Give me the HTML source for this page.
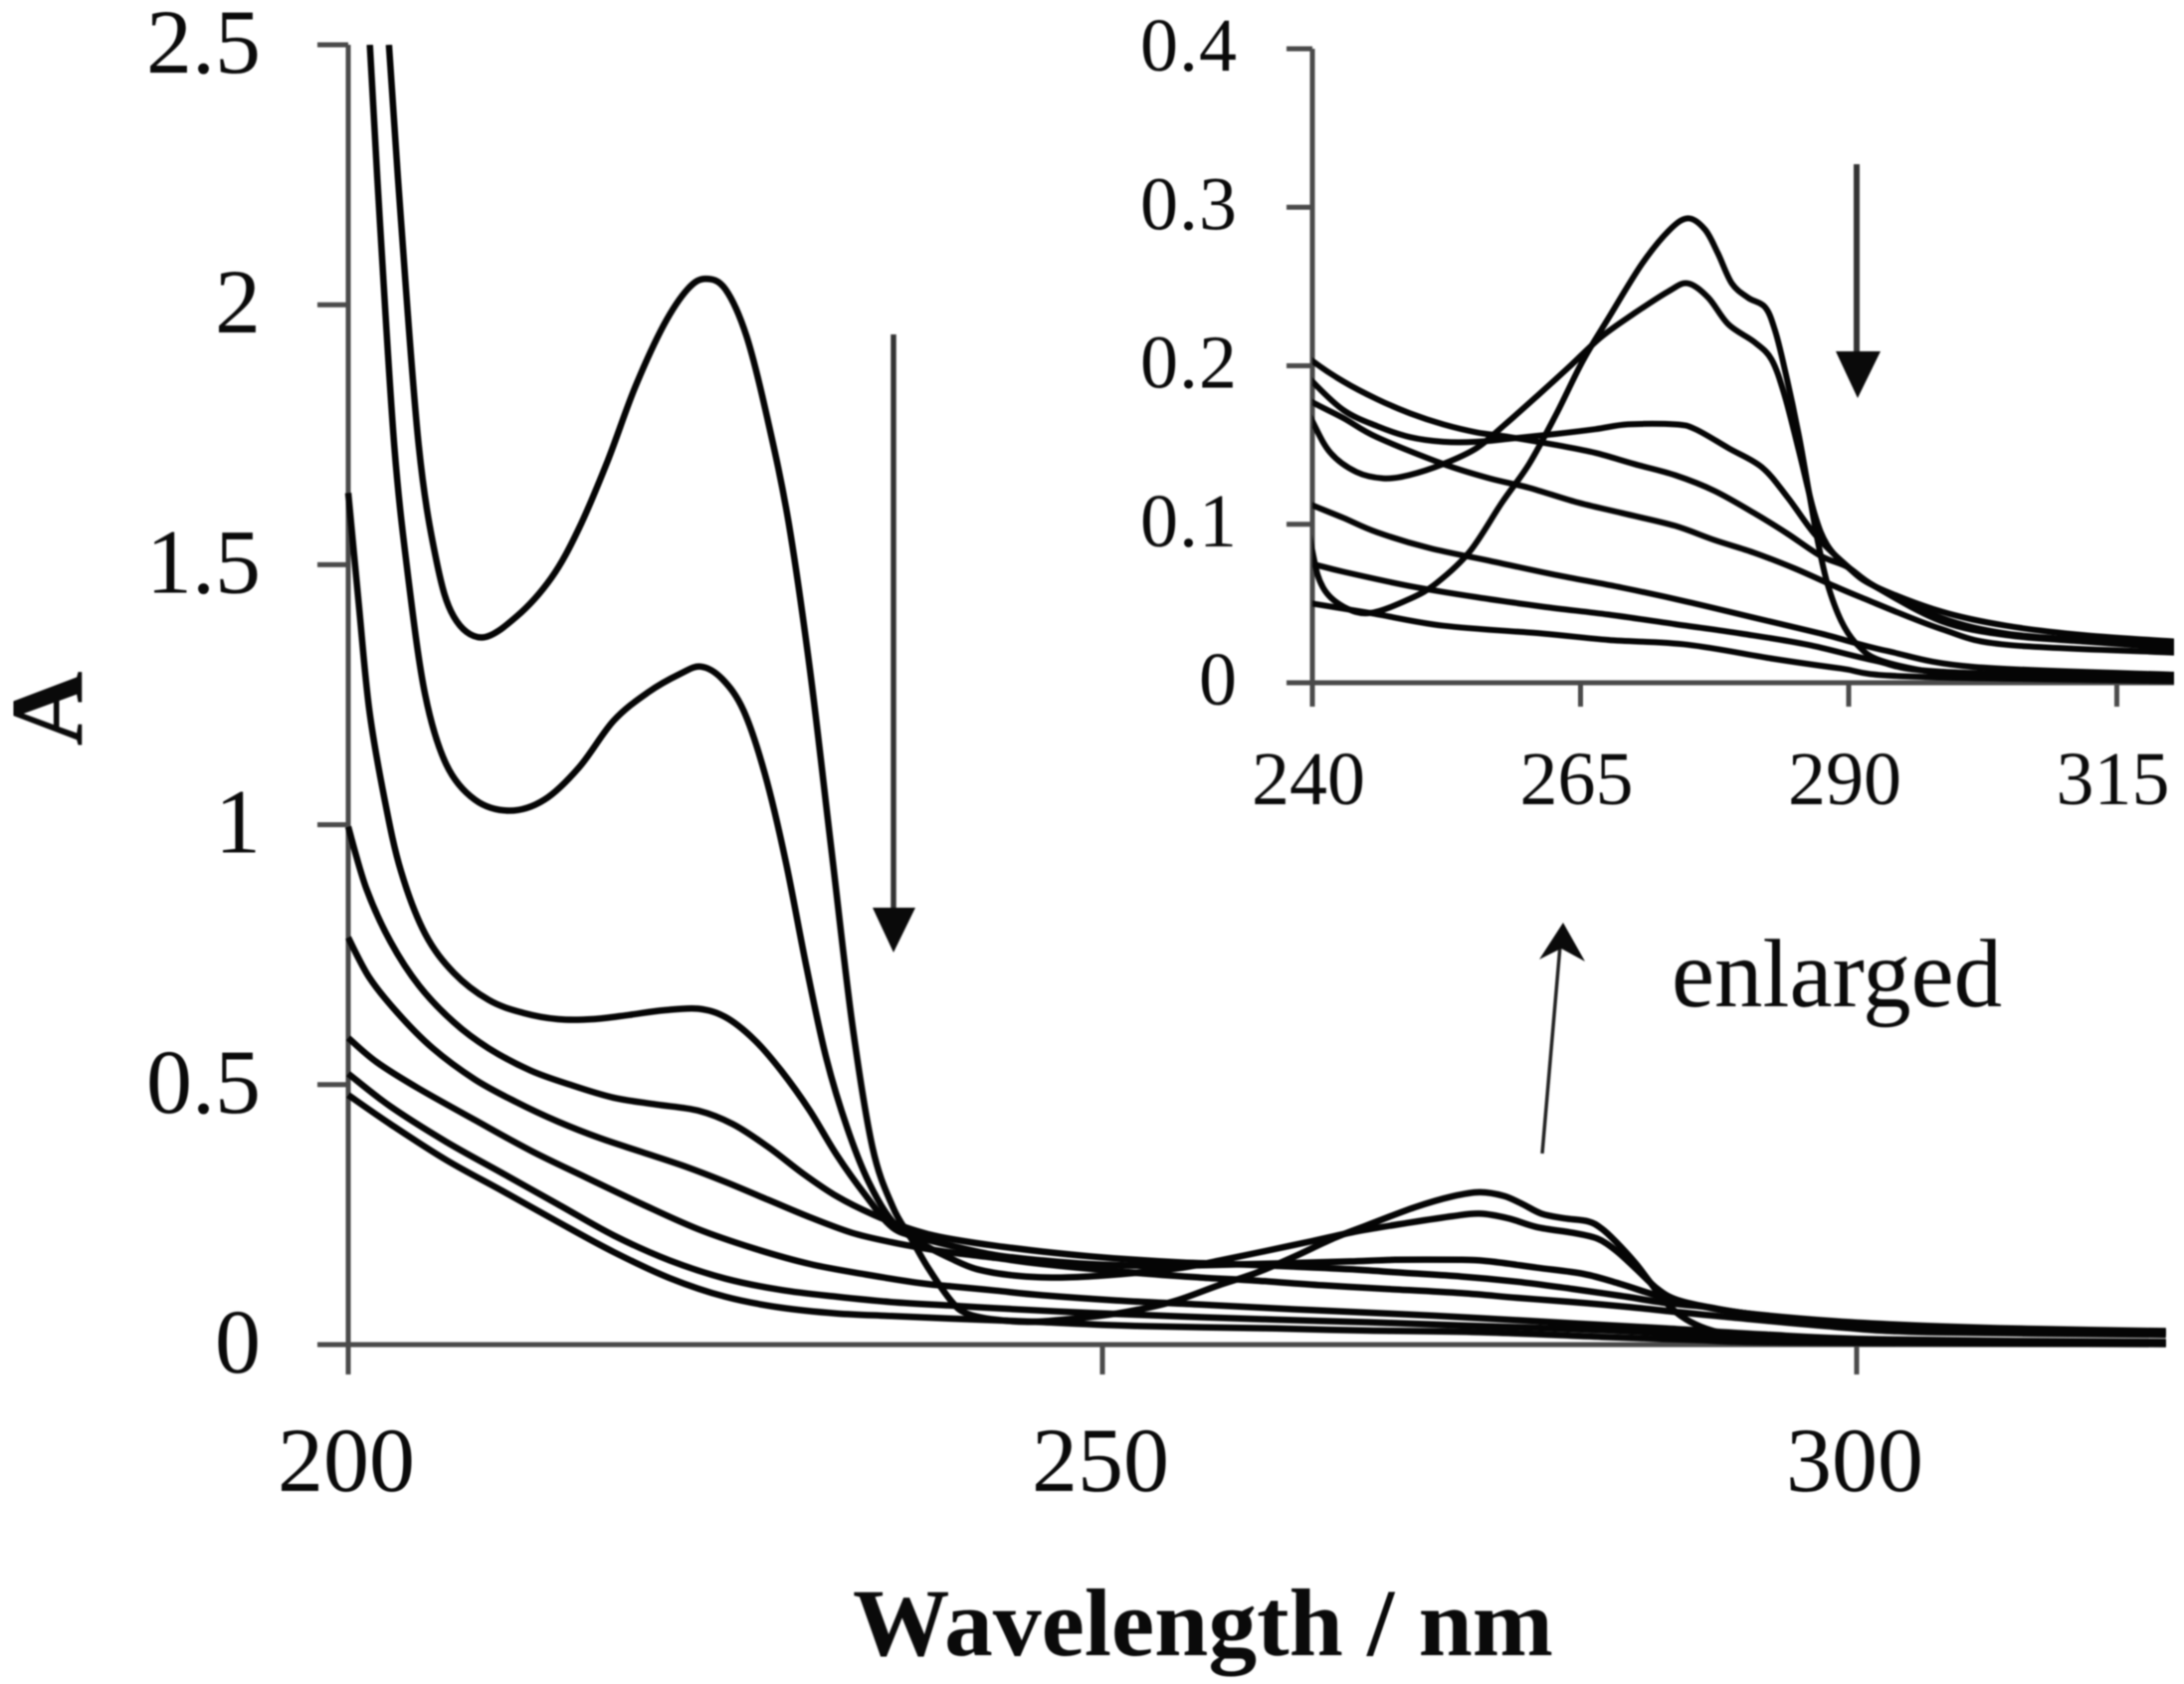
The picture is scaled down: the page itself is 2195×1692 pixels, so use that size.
<!DOCTYPE html>
<html lang="en">
<head>
<meta charset="utf-8">
<title>UV absorbance spectra</title>
<style>
html,body{margin:0;padding:0;background:#fff;width:2195px;height:1692px;overflow:hidden}
svg{display:block;filter:blur(0.8px)}
text{font-family:"Liberation Serif",serif;fill:#0a0a0a}
</style>
</head>
<body>
<svg id="chart" width="2195" height="1692" viewBox="0 0 2195 1692" xmlns="http://www.w3.org/2000/svg">
<defs>
<clipPath id="clip-main"><rect x="340" y="45" width="1837" height="1320"/></clipPath>
<clipPath id="clip-inset"><rect x="1319" y="49" width="866" height="650"/></clipPath>
</defs>
<rect width="2195" height="1692" fill="#fff"/>
<g id="main-axes"></g>
<g id="inset-axes"></g>
<g id="main-series" clip-path="url(#clip-main)"></g>
<g id="inset-series" clip-path="url(#clip-inset)"></g>
<text x="1209" y="1663" text-anchor="middle" font-size="96" font-weight="bold" textLength="704" lengthAdjust="spacingAndGlyphs">Wavelength / nm</text>
<text transform="translate(82,712) rotate(-90)" text-anchor="middle" font-size="104" font-weight="bold">A</text>
<text x="1680" y="1011" font-size="97">enlarged</text>
<g>
<line x1="898" y1="336" x2="898" y2="915" stroke="#333" stroke-width="5.5"/>
<polygon points="877,912 920,912 898,957" fill="#0a0a0a"/>
</g>
<g>
<line x1="1866" y1="165" x2="1866" y2="356" stroke="#333" stroke-width="6"/>
<polygon points="1845,353 1890,353 1867,400" fill="#0a0a0a"/>
</g>
<g>
<line x1="1550" y1="1159" x2="1568" y2="950" stroke="#222" stroke-width="3.5"/>
<polygon points="1571,927 1593,966 1569,953 1547,964" fill="#0a0a0a"/>
</g>
</svg>
<script>
const mainYTicks = [0, 0.5, 1, 1.5, 2, 2.5];
const mainYLabels = ['0', '0.5', '1', '1.5', '2', '2.5'];
const mainXTicks = [200, 250, 300];
const insetYTicks = [0, 0.1, 0.2, 0.3, 0.4];
const insetYLabels = ['0', '0.1', '0.2', '0.3', '0.4'];
const insetXTicks = [240, 265, 290, 315];

const wavesA = [202.7,203.5,204.67,205.83,207,208.84,211.15,213.47,215.3,217.2,219,220.9,222.5,223.7,225,226.4,227.8,229.2,230.6,232,233.4,234.75,236.1,237.3,238.5,240,241,242.9,245.4,249.1,251.6,254.7,257.7,260.2,262.7,265.2,267.6,270.7,273.2,275,276.6,277.8,279.1,280.6,282.2,283.1,284,285.3,286.2,287.1,288,289.3,290.8,293,298.6,304.7,320.5];
const valuesA = [2.5,2.16,1.73,1.51,1.4,1.36,1.4,1.475,1.57,1.7,1.84,1.96,2.03,2.05,2.03,1.94,1.78,1.58,1.3,0.96,0.62,0.38,0.265,0.205,0.145,0.083,0.06,0.048,0.044,0.053,0.063,0.083,0.114,0.138,0.169,0.203,0.23,0.264,0.285,0.293,0.286,0.271,0.252,0.243,0.237,0.223,0.199,0.158,0.124,0.09,0.063,0.039,0.024,0.014,0.006,0.004,0.004];
const wavesB = [201.43,202.1,203.05,203.98,205.1,206.5,208.4,210.7,213,215.3,217.6,219.9,222,223.4,224.8,226.2,227.6,229,230.4,231.7,233.1,234.5,236.1,238,240,241.7,244.1,246.6,249,252.2,255.3,257.8,260.8,263.9,266.9,270,273.2,275,276.9,278.8,281.2,282.8,284,285.3,286.8,288,289.9,292.4,298.6,304.7,312,320.5];
const valuesB = [2.5,2.16,1.73,1.475,1.25,1.116,1.048,1.027,1.048,1.11,1.2,1.255,1.29,1.304,1.28,1.22,1.1,0.93,0.723,0.55,0.415,0.313,0.236,0.195,0.165,0.145,0.133,0.129,0.131,0.138,0.148,0.162,0.18,0.199,0.218,0.233,0.247,0.252,0.243,0.226,0.215,0.204,0.182,0.148,0.107,0.087,0.073,0.061,0.045,0.036,0.03,0.026];
const wavesC = [200,200.7,201.4,202.4,203.5,205.1,207,209.3,211.6,213.9,216.2,218.6,220.9,223.2,225,226.9,228.7,230.6,232.4,234.3,236.1,238,240,242.9,246,249.1,252.2,255.3,258.4,262.7,266.4,269.4,273.8,275.7,278.8,281.9,284.3,286.8,289.3,292.4,298.6,304.7,312,320.5];
const valuesC = [1.638,1.424,1.22,1.05,0.91,0.79,0.715,0.663,0.638,0.626,0.626,0.634,0.643,0.646,0.63,0.587,0.527,0.45,0.364,0.287,0.225,0.205,0.19,0.172,0.162,0.155,0.152,0.152,0.154,0.157,0.16,0.163,0.163,0.16,0.148,0.136,0.117,0.094,0.077,0.061,0.041,0.031,0.027,0.024];
const wavesD = [200,201.2,202.8,204.7,207,209.3,212.1,214.9,217.6,220.4,223.2,225.5,227.8,230.1,232.4,234.8,237,238.5,240,242.9,246,249.1,252.2,255.3,258.4,262.7,266.4,270,273.8,277.5,281.2,284.3,287.4,289.9,292.4,298.6,304.7,312,320.5];
const valuesD = [0.996,0.877,0.775,0.69,0.62,0.57,0.527,0.498,0.475,0.462,0.45,0.424,0.381,0.33,0.285,0.25,0.225,0.212,0.203,0.19,0.179,0.17,0.163,0.158,0.155,0.15,0.145,0.138,0.131,0.121,0.107,0.094,0.08,0.073,0.061,0.039,0.03,0.026,0.022];
const wavesE = [200,201.4,203.3,205.6,208.4,211.1,213.9,216.7,219.5,222.3,225,227.8,230.6,233.4,236,238,240,242.9,246,252.2,256.5,260.2,264.6,268.9,273.8,277.5,281.2,285,288,291.1,298.6,304.7,320.5];
const valuesE = [0.783,0.706,0.637,0.57,0.51,0.467,0.429,0.397,0.37,0.343,0.313,0.279,0.245,0.215,0.197,0.186,0.177,0.167,0.155,0.138,0.129,0.123,0.114,0.107,0.099,0.09,0.082,0.072,0.063,0.054,0.034,0.024,0.019];
const wavesF = [200,201.9,204.7,208.4,212.1,215.8,219.5,223.2,226.9,230.6,234.3,238,240,242.9,246,250.9,256.5,262.7,268.9,275,281.2,287.4,293.6,301.7,320.5];
const valuesF = [0.59,0.543,0.492,0.432,0.373,0.321,0.27,0.222,0.185,0.155,0.135,0.118,0.112,0.104,0.095,0.085,0.077,0.068,0.06,0.051,0.041,0.031,0.02,0.01,0.005];
const wavesG = [200,202.8,206.5,210.2,213.9,217.6,221.3,225,228.7,232.4,236,240,242.9,249.1,255.3,261.5,267.6,273.8,280,286.2,292.4,298.6,320.5];
const valuesG = [0.521,0.458,0.39,0.33,0.27,0.21,0.162,0.127,0.105,0.092,0.082,0.075,0.07,0.061,0.054,0.048,0.043,0.037,0.031,0.024,0.014,0.007,0.003];
const wavesH = [200,202.8,206.5,210.2,213.9,217.6,221.3,225,228.7,232.4,236,240,245.4,252.2,261.5,267.6,275,283.1,289.3,295.5,320.5];
const valuesH = [0.48,0.424,0.355,0.296,0.236,0.178,0.128,0.092,0.071,0.06,0.055,0.05,0.044,0.036,0.031,0.027,0.024,0.015,0.009,0.004,0.001];

const seriesNames = ['a', 'b', 'c', 'd', 'e', 'f', 'g', 'h'];
const seriesWaves = [wavesA, wavesB, wavesC, wavesD, wavesE, wavesF, wavesG, wavesH];
const seriesValues = [valuesA, valuesB, valuesC, valuesD, valuesE, valuesF, valuesG, valuesH];

const NS = 'http://www.w3.org/2000/svg';
const xMain = w => 350 + (w - 200) * 15.16;
const yMain = v => 1351 - v * 522.4;
const xInset = w => 1319 + (w - 240) * 10.78;
const yInset = v => 686 - v * 1592.5;

function make(tag, attrs, parent, content) {
  const el = document.createElementNS(NS, tag);
  for (const k in attrs) el.setAttribute(k, attrs[k]);
  if (content !== undefined) el.textContent = content;
  parent.appendChild(el);
  return el;
}

function smoothPath(waves, values, fx, fy) {
  const p = waves.map((w, i) => [fx(w), fy(values[i])]);
  let d = 'M' + p[0][0].toFixed(1) + ' ' + p[0][1].toFixed(1);
  for (let i = 0; i < p.length - 1; i++) {
    const p0 = p[i - 1] || p[i], p1 = p[i], p2 = p[i + 1], p3 = p[i + 2] || p2;
    const c1x = p1[0] + (p2[0] - p0[0]) / 6, c1y = p1[1] + (p2[1] - p0[1]) / 6;
    const c2x = p2[0] - (p3[0] - p1[0]) / 6, c2y = p2[1] - (p3[1] - p1[1]) / 6;
    d += 'C' + c1x.toFixed(1) + ' ' + c1y.toFixed(1) + ' ' + c2x.toFixed(1) + ' ' + c2y.toFixed(1) + ' ' + p2[0].toFixed(1) + ' ' + p2[1].toFixed(1);
  }
  return d;
}

function drawAxes(group, fx, fy, xT, yT, yL, opt) {
  const axisStyle = { stroke: '#4a4a4a', 'stroke-width': opt.axisWidth, fill: 'none' };
  const yAxis = make('line', Object.assign({ x1: fx(xT[0]), x2: fx(xT[0]), y1: fy(yT[yT.length - 1]), y2: fy(0) + opt.xTick }, axisStyle), group);
  
  
  const xAxis = make('line', Object.assign({ x1: fx(xT[0]) - opt.yTick, x2: opt.right, y1: fy(0), y2: fy(0) }, axisStyle), group);
  
  
  yT.forEach((v, i) => {
    const tick = make('line', Object.assign({ x1: fx(xT[0]) - opt.yTick, x2: fx(xT[0]), y1: fy(v), y2: fy(v) }, axisStyle), group);
    
    
    const label = make('text', { x: opt.yLabelX, y: fy(v) + opt.yBase, 'text-anchor': 'end', 'font-size': opt.font, 'letter-spacing': opt.spacing }, group, yL[i]);
    
    
  });
  xT.forEach(w => {
    const tick = make('line', Object.assign({ x1: fx(w), x2: fx(w), y1: fy(0), y2: fy(0) + opt.xTick }, axisStyle), group);
    
    
    const label = make('text', { x: fx(w) + opt.xLabelShift, y: opt.xBase, 'text-anchor': 'middle', 'font-size': opt.font }, group, String(w));
    
    
  });
}

drawAxes(document.getElementById('main-axes'), xMain, yMain, mainXTicks, mainYTicks, mainYLabels,
  { prefix: 'main-', axisWidth: 5, xTick: 30, yTick: 31, right: 2177, yLabelX: 262, yBase: 28, xBase: 1498, xLabelShift: -2, font: 92, spacing: 0 });
drawAxes(document.getElementById('inset-axes'), xInset, yInset, insetXTicks, insetYTicks, insetYLabels,
  { prefix: 'inset-', axisWidth: 5, xTick: 24, yTick: 26, right: 2185, yLabelX: 1244, yBase: 22, xBase: 808, xLabelShift: -4, font: 76, spacing: 1 });

const mainGroup = document.getElementById('main-series');
const insetGroup = document.getElementById('inset-series');
seriesNames.forEach((name, i) => {
  const m = make('path', { d: smoothPath(seriesWaves[i], seriesValues[i], xMain, yMain), fill: 'none', stroke: '#050505', 'stroke-width': 6.5, 'stroke-linejoin': 'round' }, mainGroup);
  
  
  const n = make('path', { d: smoothPath(seriesWaves[i], seriesValues[i], xInset, yInset), fill: 'none', stroke: '#050505', 'stroke-width': 6, 'stroke-linejoin': 'round' }, insetGroup);
  
  
});
</script>
</body>
</html>
